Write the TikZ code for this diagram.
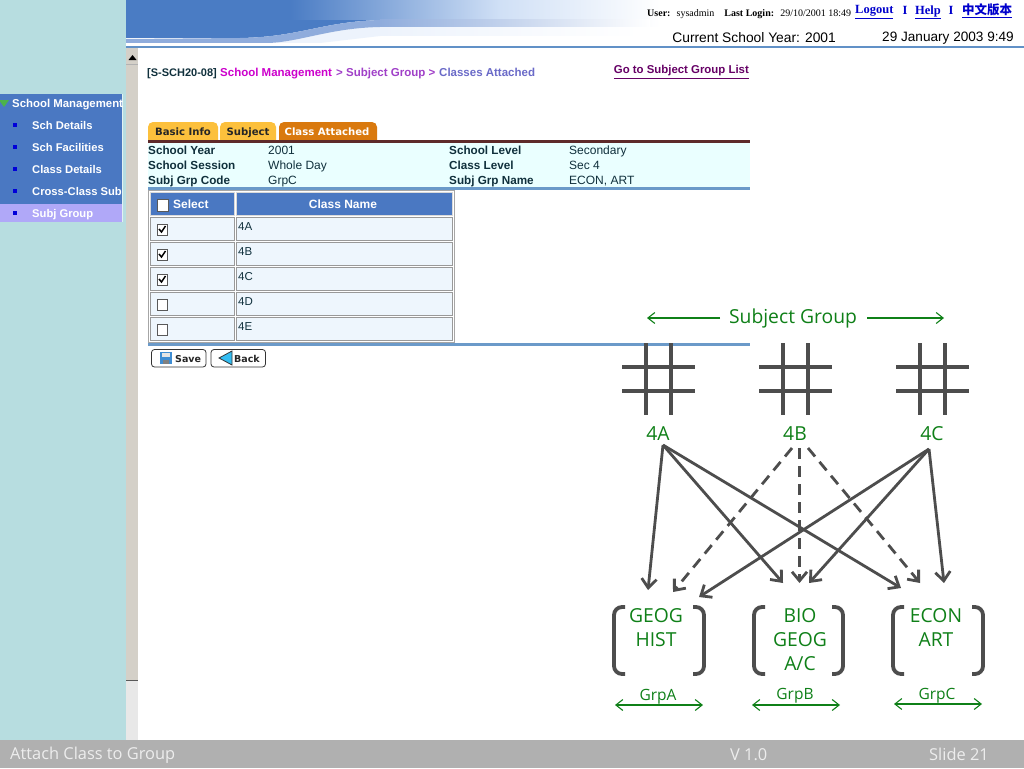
\documentclass[tikz,border=0pt]{standalone}
\usepackage{fontspec}
\setmainfont{Liberation Sans}
\newfontfamily\slidefont{Open Sans}
\newfontfamily\tabfont{DejaVu Sans}
\newfontfamily\headfont{Liberation Serif}
\newfontfamily\cjkfont{Noto Sans CJK SC}
\usetikzlibrary{arrows.meta}
\usetikzlibrary{positioning}
\definecolor{sidebg}{HTML}{B7DDE0}
\definecolor{menublue}{HTML}{4A78C2}
\definecolor{menusel}{HTML}{B0A8F8}
\definecolor{hdrblue}{HTML}{4A7CC4}
\definecolor{hdrband}{HTML}{8FACDC}
\definecolor{hdrpale}{HTML}{D0E0F6}
\definecolor{hdrstrip}{HTML}{EDF3FC}
\definecolor{scrollgray}{HTML}{D4D0C8}
\definecolor{infobg}{HTML}{EAFFFF}
\definecolor{rulered}{HTML}{5E2A2A}
\definecolor{ruleblue}{HTML}{6B9AC9}
\definecolor{cellbg}{HTML}{EEF6FD}
\definecolor{tabyellow}{HTML}{FCC03C}
\definecolor{taborange}{HTML}{D9790E}
\definecolor{slidegreen}{HTML}{0F8018}
\definecolor{slidegray}{HTML}{4D4D4D}
\definecolor{footgray}{HTML}{B0B0B0}
\definecolor{textdark}{HTML}{10303C}
\definecolor{crumbmag}{HTML}{CC00CC}
\definecolor{crumbpur}{HTML}{A040C8}
\definecolor{crumbblue}{HTML}{6A6AC8}
\tikzstyle{menuhead} = [anchor=west, inner sep=0pt, text height=8pt, text depth=2pt, text=white, font=\fontsize{11.4}{13}\selectfont\bfseries]
\tikzstyle{menuitem} = [anchor=west, inner sep=0pt, text height=8pt, text depth=2pt, text=white, font=\fontsize{11.2}{13}\selectfont\bfseries]
\tikzstyle{crumb} = [anchor=west, inner sep=0pt, text height=8pt, text depth=2pt, font=\fontsize{11.5}{13}\selectfont\bfseries]
\tikzstyle{infolabel} = [inner sep=0pt, text height=9pt, text depth=2pt, text=textdark, font=\fontsize{11.7}{14}\selectfont\bfseries]
\tikzstyle{infovalue} = [inner sep=0pt, text height=9pt, text depth=2pt, text=textdark, font=\fontsize{12}{14}\selectfont]
\tikzstyle{tabtext} = [inner sep=0pt, text height=8pt, text depth=2pt, font=\tabfont\fontsize{10.1}{11}\selectfont\bfseries]
\tikzstyle{cell} = [draw=gray!80, fill=cellbg, line width=1pt]
\tikzstyle{headcell} = [draw=gray!30, fill=menublue, line width=1pt]
\tikzstyle{headtext} = [inner sep=0pt, text=white, font=\fontsize{12}{14}\selectfont\bfseries]
\tikzstyle{celltext} = [anchor=west, inner sep=0pt, text=textdark, font=\fontsize{11.5}{13}\selectfont]
\tikzstyle{checkbox} = [draw=gray!70!black, fill=white, line width=1pt]
\tikzstyle{tick} = [line width=1.5pt, black]
\tikzstyle{buttonbox} = [draw=black!80, fill=white, rounded corners=3pt, line width=0.8pt]
\tikzstyle{buttontext} = [anchor=west, inner sep=0pt, text height=8pt, text depth=2pt, text=black!85, font=\tabfont\fontsize{9.5}{11}\selectfont\bfseries]
\tikzstyle{toplink} = [inner sep=0pt, text=blue!80!black, font=\headfont\fontsize{12.5}{14}\selectfont\bfseries]
\tikzstyle{slidetext} = [inner sep=0pt, text=slidegreen, font=\slidefont\fontsize{19.3}{24}\selectfont]
\tikzstyle{smalltext} = [inner sep=0pt, text=slidegreen, font=\slidefont\fontsize{15.5}{18}\selectfont]
\tikzstyle{foottext} = [anchor=west, inner sep=0pt, text height=12pt, text depth=4pt, text=white!93!black, font=\slidefont\fontsize{16.4}{18}\selectfont]
\tikzstyle{gridline} = [line width=4.6pt, slidegray]
\tikzstyle{bracket} = [line width=3.8pt, slidegray, rounded corners=8pt]
\tikzstyle{solidarrow} = [line width=2.8pt, slidegray, -{Straight Barb[length=9pt,width=15pt]}]
\tikzstyle{dasharrow} = [line width=2.8pt, slidegray, dash pattern=on 11pt off 7pt, -{Straight Barb[length=9pt,width=15pt]}]
\tikzstyle{spanarrow} = [line width=1.1pt, slidegreen, {Straight Barb[length=7pt,width=11pt]}-{Straight Barb[length=7pt,width=11pt]}]
\tikzstyle{sidearrow} = [line width=1.1pt, slidegreen, -{Straight Barb[length=7pt,width=11pt]}]

\begin{document}
\begin{tikzpicture}[x=1pt,y=-1pt]
\useasboundingbox (0,0) rectangle (1024,768);

% backgrounds
\fill [white] (0,0) rectangle (1024,768);
\fill [sidebg] (0,0) rectangle (126,740);
\fill [scrollgray] (126,48) rectangle (138,680);
\fill [gray!18] (126,680) rectangle (138,740);
\draw [gray!70!black, line width=0.8pt] (126,680.5) -- (138,680.5);
\draw [gray!60, line width=0.6pt] (126,64) -- (138,64);
\fill [black] (128.5,60) -- (132.5,55) -- (136.5,60) -- cycle;
\fill [footgray] (0,740) rectangle (1024,768);

% header
\fill [hdrblue] (126,0) -- (126,38) -- (240,38) .. controls (300,37) and (320,22) .. (380,20) -- (380,0) -- cycle;
\shade [left color=hdrblue, right color=hdrpale] (290,0) rectangle (500,20);
\shade [left color=hdrpale, right color=white] (500,0) rectangle (660,27);
\fill [hdrstrip] (268,43) .. controls (300,42) and (330,28) .. (380,27) -- (380,36) -- (320,43) -- cycle;
\shade [left color=hdrstrip, right color=white] (380,27) rectangle (640,36);
\shade [left color=hdrband, right color=white] (380,20) rectangle (650,27);
\fill [hdrband] (240,38) .. controls (300,37) and (320,22) .. (380,20) -- (380,27) .. controls (330,28) and (300,42) .. (268,43) -- (126,43) -- (126,39) -- cycle;
\draw [ruleblue!70!hdrblue, line width=2pt] (126,47) -- (1024,47);

\node (userlabel) [anchor=west, inner sep=0pt, font=\headfont\fontsize{10}{11}\selectfont] at (647,14) {\textbf{User:}\; sysadmin\quad \textbf{Last Login:}\; 29/10/2001 18:49};
\node (logout) [toplink, anchor=west] at (855,12) {\underline{Logout}};
\node (barone) [toplink] at (905,10) {I};
\node (help) [toplink, anchor=west] at (915,12) {\underline{Help}};
\node (bartwo) [toplink] at (951,10) {I};
\node (chinese) [toplink, anchor=west] at (962,11) {\underline{\cjkfont\fontsize{12.5}{14}\selectfont 中文版本}};
\node (curyear) [anchor=east, inner sep=0pt, font=\fontsize{13.8}{16}\selectfont] at (836,38) {Current School Year: 2001};
\node (curdate) [anchor=east, inner sep=0pt, font=\fontsize{13.6}{16}\selectfont] at (1014,38) {29 January 2003 9:49};

% side menu
\fill [menublue] (0,94) rectangle (122,204);
\fill [menusel] (0,204) rectangle (122,222);
\fill [white!60!sidebg] (122,94) rectangle (123,222);
\fill [green!40!gray] (-1,100) -- (9,100) -- (4,107) -- cycle;
\fill [blue!85!black] (13,123) rectangle (17,127);
\fill [blue!85!black] (13,145) rectangle (17,149);
\fill [blue!85!black] (13,167) rectangle (17,171);
\fill [blue!85!black] (13,189) rectangle (17,193);
\fill [blue!85!black] (13,211) rectangle (17,215);
\begin{scope}
\clip (0,94) rectangle (122,222);
\node (menutop) [menuhead] at (12,104) {School Management};
\node (menuone) [menuitem] at (32,126) {Sch Details};
\node (menutwo) [menuitem] at (32,148) {Sch Facilities};
\node (menuthree) [menuitem] at (32,170) {Class Details};
\node (menufour) [menuitem] at (32,192) {Cross-Class Sub};
\node (menufive) [menuitem] at (32,214) {Subj Group};
\end{scope}

% title line
\node (screenid) [crumb, text=textdark, font=\fontsize{11}{13}\selectfont\bfseries] at (147,73) {[S-SCH20-08]};
\node (crumbone) [crumb, text=crumbmag] at (220,73) {School Management};
\node (crumbtwo) [crumb, text=crumbpur] at (336,73) {> Subject Group >};
\node (crumbthree) [crumb, text=crumbblue] at (439,73) {Classes Attached};
\node (golist) [crumb, anchor=east, text=violet!80!black, font=\fontsize{11.4}{13}\selectfont\bfseries] at (749,71) {\underline{Go to Subject Group List}};

% tabs
\fill [tabyellow, rounded corners=5pt] (148,150) -- (148,122) -- (218,122) -- (218,150) -- cycle;
\fill [tabyellow, rounded corners=5pt] (220,150) -- (220,122) -- (276,122) -- (276,150) -- cycle;
\fill [taborange, rounded corners=5pt] (279,150) -- (279,122) -- (377,122) -- (377,150) -- cycle;
\node (tabone) [tabtext, text=black!85] at (183,132) {Basic Info};
\node (tabtwo) [tabtext, text=black!85] at (248,132) {Subject};
\node (tabthree) [tabtext, text=white] at (327,132) {Class Attached};

% info block
\fill [infobg] (148,142) rectangle (750,187);
\fill [rulered] (148,139.5) rectangle (750,142.5);
\fill [ruleblue] (148,187) rectangle (750,190);
\node (yearlabel) [infolabel, anchor=west] at (148,150.5) {School Year};
\node (sessionlabel) [infolabel, below=4pt of yearlabel.south west, anchor=north west] {School Session};
\node (codelabel) [infolabel, below=4pt of sessionlabel.south west, anchor=north west] {Subj Grp Code};
\node (yearvalue) [infovalue, anchor=west] at (268,150.5) {2001};
\node (sessionvalue) [infovalue, below=4pt of yearvalue.south west, anchor=north west] {Whole Day};
\node (codevalue) [infovalue, below=4pt of sessionvalue.south west, anchor=north west] {GrpC};
\node (levellabel) [infolabel, anchor=west] at (449,150.5) {School Level};
\node (classlabel) [infolabel, below=4pt of levellabel.south west, anchor=north west] {Class Level};
\node (namelabel) [infolabel, below=4pt of classlabel.south west, anchor=north west] {Subj Grp Name};
\node (levelvalue) [infovalue, anchor=west] at (569,150.5) {Secondary};
\node (classvalue) [infovalue, below=4pt of levelvalue.south west, anchor=north west] {Sec 4};
\node (namevalue) [infovalue, below=4pt of classvalue.south west, anchor=north west] {ECON, ART};

% class table
\draw [gray!70, line width=1pt] (148,190) rectangle (454.5,342.5);
\draw [headcell] (150,192) rectangle (234,215);
\draw [headcell] (236,192) rectangle (452,215);
\draw [cell] (150,217) rectangle (234,240);
\draw [cell] (236,217) rectangle (452,240);
\draw [cell] (150,242) rectangle (234,265);
\draw [cell] (236,242) rectangle (452,265);
\draw [cell] (150,267) rectangle (234,290);
\draw [cell] (236,267) rectangle (452,290);
\draw [cell] (150,292) rectangle (234,315);
\draw [cell] (236,292) rectangle (452,315);
\draw [cell] (150,317) rectangle (234,340);
\draw [cell] (236,317) rectangle (452,340);
\draw [checkbox] (157,199) rectangle (168,211);
\draw [checkbox] (157,224) rectangle (167,235);
\draw [checkbox] (157,249) rectangle (167,260);
\draw [checkbox] (157,274) rectangle (167,285);
\draw [checkbox] (157,299) rectangle (167,310);
\draw [checkbox] (157,324) rectangle (167,335);
\draw [tick] (159,229) -- (161.5,232) -- (165.5,226);
\draw [tick] (159,254) -- (161.5,257) -- (165.5,251);
\draw [tick] (159,279) -- (161.5,282) -- (165.5,276);
\node (selecthead) [headtext, anchor=west] at (173,204) {Select};
\node (namehead) [headtext] at (343,204) {Class Name};
\node (rowa) [celltext] at (238,227) {4A};
\node (rowb) [celltext] at (238,252) {4B};
\node (rowc) [celltext] at (238,277) {4C};
\node (rowd) [celltext] at (238,302) {4D};
\node (rowe) [celltext] at (238,327) {4E};
\fill [ruleblue] (148,343) rectangle (750,346);

% buttons
\draw [buttonbox] (151.5,349.5) rectangle (206,367);
\draw [buttonbox] (211,349.5) rectangle (265.5,367);
\fill [cyan!60!blue!80!white] (160,352) rectangle (172,364);
\fill [white!80!gray] (162,353) rectangle (170,357);
\fill [gray] (163,360) rectangle (169,364);
\fill [cyan!80!white] (219,358) -- (232,351) -- (232,365) -- cycle;
\draw [black!80, line width=0.8pt] (219,358) -- (232,351) -- (232,365) -- cycle;
\node (savetext) [buttontext] at (175,359) {Save};
\node (backtext) [buttontext] at (234,359) {Back};

% subject group heading
\node (subjgroup) [slidetext] at (793,318) {Subject Group};
\coordinate (spanleft) at (647,318);
\coordinate (spanright) at (944,318);
\coordinate (spanstartl) at (720,318);
\coordinate (spanstartr) at (867,318);
\draw [sidearrow] (spanstartl) -- (spanleft);
\draw [sidearrow] (spanstartr) -- (spanright);

% class grids
\draw [gridline] (646,343) -- (646,415);
\draw [gridline] (671,343) -- (671,415);
\draw [gridline] (622,367) -- (695,367);
\draw [gridline] (622,391) -- (695,391);
\draw [gridline] (783,343) -- (783,415);
\draw [gridline] (808,343) -- (808,415);
\draw [gridline] (759,367) -- (832,367);
\draw [gridline] (759,391) -- (832,391);
\draw [gridline] (920,343) -- (920,415);
\draw [gridline] (945,343) -- (945,415);
\draw [gridline] (896,367) -- (969,367);
\draw [gridline] (896,391) -- (969,391);

\node (classa) [slidetext] at (658,434) {4A};
\node (classb) [slidetext] at (795,434) {4B};
\node (classc) [slidetext] at (932,434) {4C};

% subject groups
\node (grpaitems) [slidetext, align=center, anchor=north] at (656,608.5) {GEOG\\HIST};
\node (grpbitems) [slidetext, align=center, anchor=north] at (800,608.5) {BIO\\GEOG\\A/C};
\node (grpcitems) [slidetext, align=center, anchor=north] at (936,608.5) {ECON\\ART};

\draw [bracket] (625,607) -- (614,607) -- (614,674) -- (625,674);
\draw [bracket] (693,607) -- (704,607) -- (704,674) -- (693,674);
\draw [bracket] (765,607) -- (754,607) -- (754,674) -- (765,674);
\draw [bracket] (832,607) -- (843,607) -- (843,674) -- (832,674);
\draw [bracket] (904,607) -- (893,607) -- (893,674) -- (904,674);
\draw [bracket] (972,607) -- (983,607) -- (983,674) -- (972,674);

\node (grpa) [smalltext] at (658,696.5) {GrpA};
\node (grpb) [smalltext] at (795,695.5) {GrpB};
\node (grpc) [smalltext] at (937,695.5) {GrpC};
\coordinate (grpaleft) at (615,705);
\coordinate (grparight) at (703,705);
\coordinate (grpbleft) at (752,705);
\coordinate (grpbright) at (840,705);
\coordinate (grpcleft) at (894,704);
\coordinate (grpcright) at (982,704);
\draw [spanarrow] (grpaleft) -- (grparight);
\draw [spanarrow] (grpbleft) -- (grpbright);
\draw [spanarrow] (grpcleft) -- (grpcright);

% arrows from class to group
\coordinate (fromaone) at (663,445);
\coordinate (frombone) at (792,448);
\coordinate (frombtwo) at (799.5,448);
\coordinate (frombthree) at (808,448);
\coordinate (fromcone) at (929,449);
\coordinate (toaone) at (648,590);
\coordinate (toatwo) at (673,592);
\coordinate (toathree) at (699,597);
\coordinate (tobone) at (783,583);
\coordinate (tobtwo) at (799.5,583);
\coordinate (tobthree) at (809,583);
\coordinate (tocone) at (901,588);
\coordinate (toctwo) at (920,583);
\coordinate (tocthree) at (944,583);

\draw [solidarrow] (fromaone) -- (toaone);
\draw [solidarrow] (fromaone) -- (tobone);
\draw [solidarrow] (fromaone) -- (tocone);
\draw [dasharrow] (frombone) -- (toatwo);
\draw [dasharrow] (frombtwo) -- (tobtwo);
\draw [dasharrow] (frombthree) -- (toctwo);
\draw [solidarrow] (fromcone) -- (toathree);
\draw [solidarrow] (fromcone) -- (tobthree);
\draw [solidarrow] (fromcone) -- (tocthree);

% footer
\node (foottitle) [foottext] at (10,755) {Attach Class to Group};
\node (footversion) [foottext] at (730,756) {V 1.0};
\node (footslide) [foottext] at (929,756) {Slide 21};

\end{tikzpicture}
\end{document}
